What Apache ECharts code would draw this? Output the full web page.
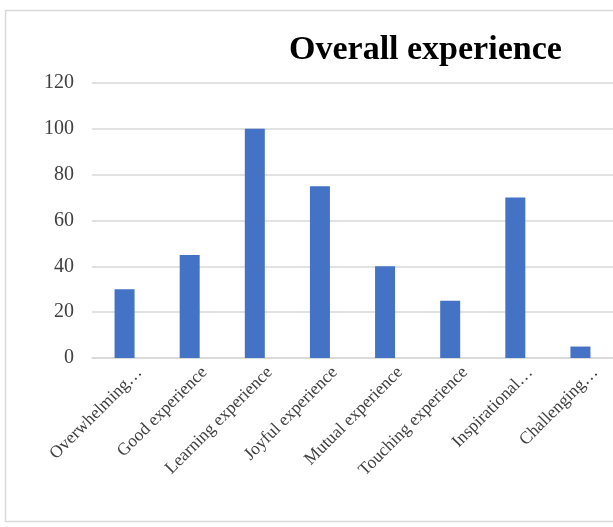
<!DOCTYPE html>
<html>
<head>
<meta charset="utf-8">
<script src="https://cdn.jsdelivr.net/npm/echarts@6/dist/echarts.min.js"></script>
<style>
  html, body { margin: 0; padding: 0; background: #fff; }
  #chart { width: 613px; height: 527px; }
</style>
</head>
<body>
<div id="chart"></div>
<script>
// categories as shown (long ones are cut off in the original)
const categories = [
  'Overwhelming…',
  'Good experience',
  'Learning experience',
  'Joyful experience',
  'Mutual experience',
  'Touching experience',
  'Inspirational…',
  'Challenging…'
];
const values = [30, 45, 100, 75, 40, 25, 70, 5];
const yTicks = [0, 20, 40, 60, 80, 100, 120];

const serif = '"Liberation Serif", "DejaVu Serif", serif';

const chart = echarts.init(document.getElementById('chart'));

chart.setOption({
  animation: false,
  backgroundColor: '#fff',
  // outer frame of the chart area
  graphic: [{
    type: 'rect',
    shape: { x: 5.5, y: 10.5, width: 640, height: 511 },
    style: { fill: 'none', stroke: '#d9d9d9', lineWidth: 1.5 },
    silent: true
  }],
  title: {
    text: 'Overall experience',
    left: 284,
    top: 28,
    textStyle: {
      fontFamily: serif,
      fontWeight: 'bold',
      fontSize: 34,
      color: '#000'
    }
  },
  grid: {
    left: 92,
    right: -3,
    top: 83,
    bottom: 169
  },
  xAxis: {
    type: 'category',
    data: categories,
    axisTick: { show: false },
    axisLine: { lineStyle: { color: '#d9d9d9', width: 1.5 } },
    axisLabel: {
      interval: 0,
      rotate: 45,
      margin: 14,
      verticalAlign: 'top',
      padding: [0, -12, 0, 0],
      fontFamily: serif,
      fontSize: 17.5,
      color: '#404040'
    }
  },
  yAxis: {
    type: 'value',
    min: yTicks[0],
    max: yTicks[yTicks.length - 1],
    interval: yTicks[1] - yTicks[0],
    axisLine: { show: false },
    axisTick: { show: false },
    splitLine: { lineStyle: { color: '#d9d9d9', width: 1.5 } },
    axisLabel: {
      margin: 18,
      fontFamily: serif,
      fontSize: 20,
      color: '#404040'
    }
  },
  series: [{
    type: 'bar',
    data: values,
    barWidth: 20,
    itemStyle: { color: '#4472c4' }
  }]
});
</script>
</body>
</html>
